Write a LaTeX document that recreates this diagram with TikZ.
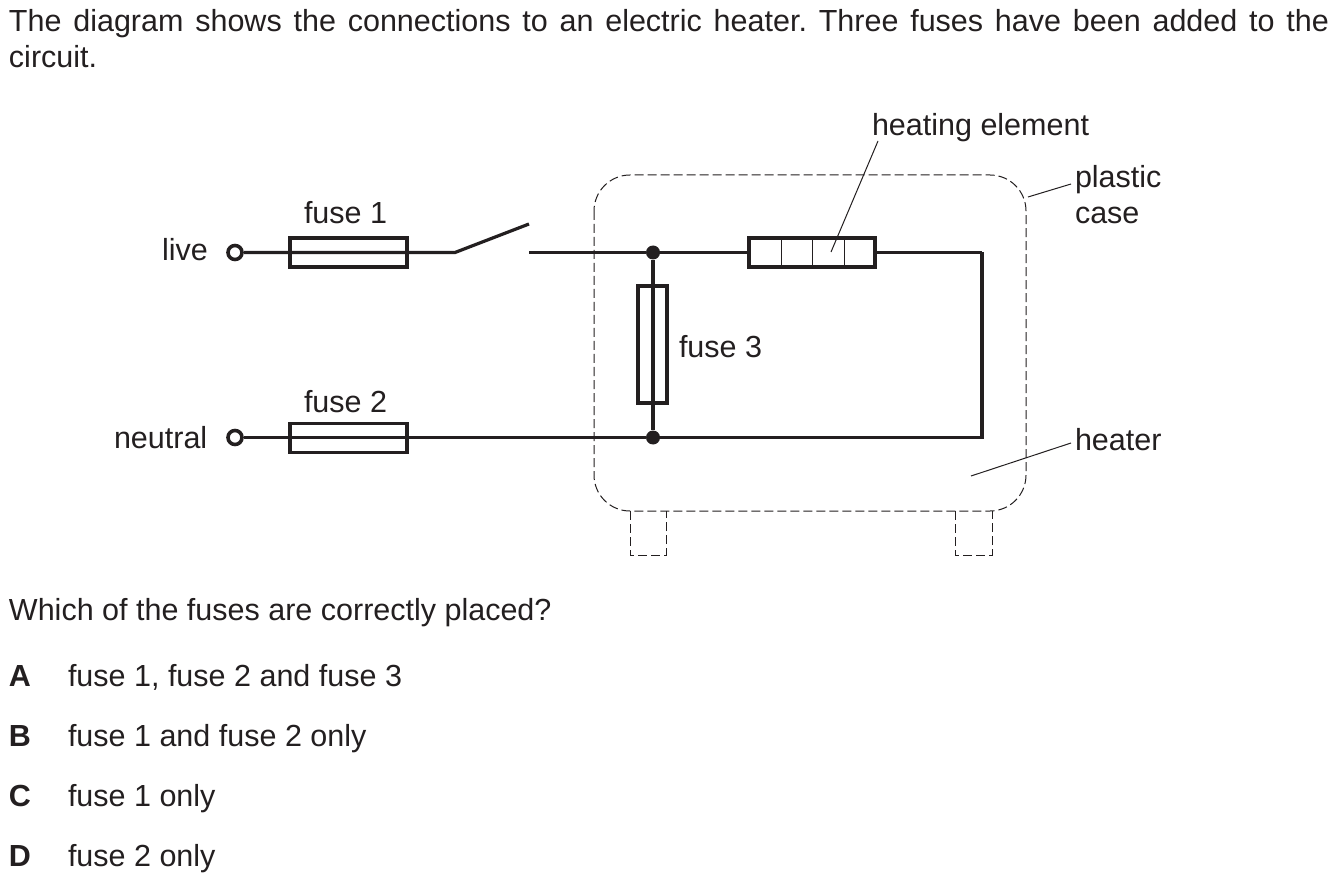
\documentclass[tikz,border=0pt]{standalone}
\usepackage{fontspec}
\setmainfont{Liberation Sans}
\definecolor{ink}{HTML}{231F20}
\newcommand{\fs}{\fontsize{30.5}{36}\selectfont}
\tikzset{
 txt/.style={inner sep=0pt,outer sep=0pt,anchor=base west,text=ink,font=\fs},
 boldtxt/.style={txt,font=\fs\bfseries},
 thickw/.style={draw=ink,line width=3.6pt,line join=miter},
 midw/.style={draw=ink,line width=3.2pt,line join=miter},
 fusebox/.style={draw=ink,line width=3.6pt,inner sep=0pt},
 thin1/.style={draw=ink,line width=1pt},
 dash1/.style={draw=ink,line width=1pt,dash pattern=on 9pt off 4pt},
 dot1/.style={circle,fill=ink,inner sep=0pt,minimum size=14pt},
 term/.style={circle,draw=ink,line width=3.6pt,fill=white,inner sep=0pt,minimum size=14pt}
}
\begin{document}
\begin{tikzpicture}[x=1pt,y=-1pt]
\useasboundingbox[fill=white] (0,0) rectangle (1338,882);
% coordinates
\coordinate (sw1) at (455,252.5);
\coordinate (sw2) at (529,224);
\coordinate (sw3) at (529,252.5);
\coordinate (tr) at (982,252.5);
\coordinate (br) at (982,437.5);
\coordinate (n1) at (653,252.5);
\coordinate (n2) at (653,437.5);
% case
\draw[dash1,rounded corners=36pt] (594,175) rectangle (1026,511);
\draw[dash1] (630,511) -- (630,555) -- (666,555) -- (666,511);
\draw[dash1] (955,511) -- (955,555) -- (992,555) -- (992,511);
% nodes
\node[term] (tl) at (235,252.5) {};
\node[term] (tn) at (235,437.5) {};
\node[dot1] (jt) at (n1) {};
\node[dot1] (jb) at (n2) {};
\node[fusebox,minimum width=117pt,minimum height=29pt] (f1) at (348.5,252.5) {};
\node[fusebox,minimum width=117pt,minimum height=29pt] (f2) at (348.5,438) {};
\node[fusebox,minimum width=29pt,minimum height=117pt] (f3) at (652.5,344.5) {};
\node[fusebox,minimum width=126pt,minimum height=29pt] (el) at (812,252.5) {};
% wires
\draw[midw] (tl) -- (sw1) -- (sw2);
\draw[midw] (sw3) -- (jt) -- (el.west);
\draw[midw] (el.east) -- (tr);
\draw[thickw] (tn) -- (jb);
\draw[thickw] (jb) -- (br) -- (tr);
\draw[midw] (jt) -- (jb);
\draw[thin1] (781,238) -- (781,267) (812,238) -- (812,267) (844,238) -- (844,267);
% labels
\node[txt,text width=1320pt,align=justify,anchor=base west] (q) at (9,32)
  {\frenchspacing The diagram shows the connections to an electric heater. Three fuses have been added to the\linebreak circuit.};
\node[txt] (lfuse1) at (304,224) {fuse 1};
\node[txt] (lfuse2) at (304,412) {fuse 2};
\node[txt] (lfuse3) at (679,357) {fuse 3};
\node[txt] (llive) at (162,261) {live};
\node[txt] (lneut) at (114,448) {neutral};
\node[txt] (lheat) at (872,136) {heating element};
\node[txt] (lplas) at (1075,188) {plastic};
\node[txt] (lcase) at (1075,224) {case};
\node[txt] (lhtr) at (1075,450) {heater};
\coordinate (a1) at (878,141); \coordinate (a2) at (831,252);
\coordinate (b1) at (1071,184); \coordinate (b2) at (1028,197);
\coordinate (c1) at (1071,443); \coordinate (c2) at (971,476);
\draw[thin1] (a1) -- (a2);
\draw[thin1] (b1) -- (b2);
\draw[thin1] (c1) -- (c2);
\node[txt] (ask) at (9,620) {Which of the fuses are correctly placed?};
\node[boldtxt] (A) at (9,686) {A};
\node[txt] (At) at (68,686) {fuse 1, fuse 2 and fuse 3};
\node[boldtxt] (B) at (9,746) {B};
\node[txt] (Bt) at (68,746) {fuse 1 and fuse 2 only};
\node[boldtxt] (C) at (9,806) {C};
\node[txt] (Ct) at (68,806) {fuse 1 only};
\node[boldtxt] (D) at (9,866) {D};
\node[txt] (Dt) at (68,866) {fuse 2 only};
\end{tikzpicture}
\end{document}
